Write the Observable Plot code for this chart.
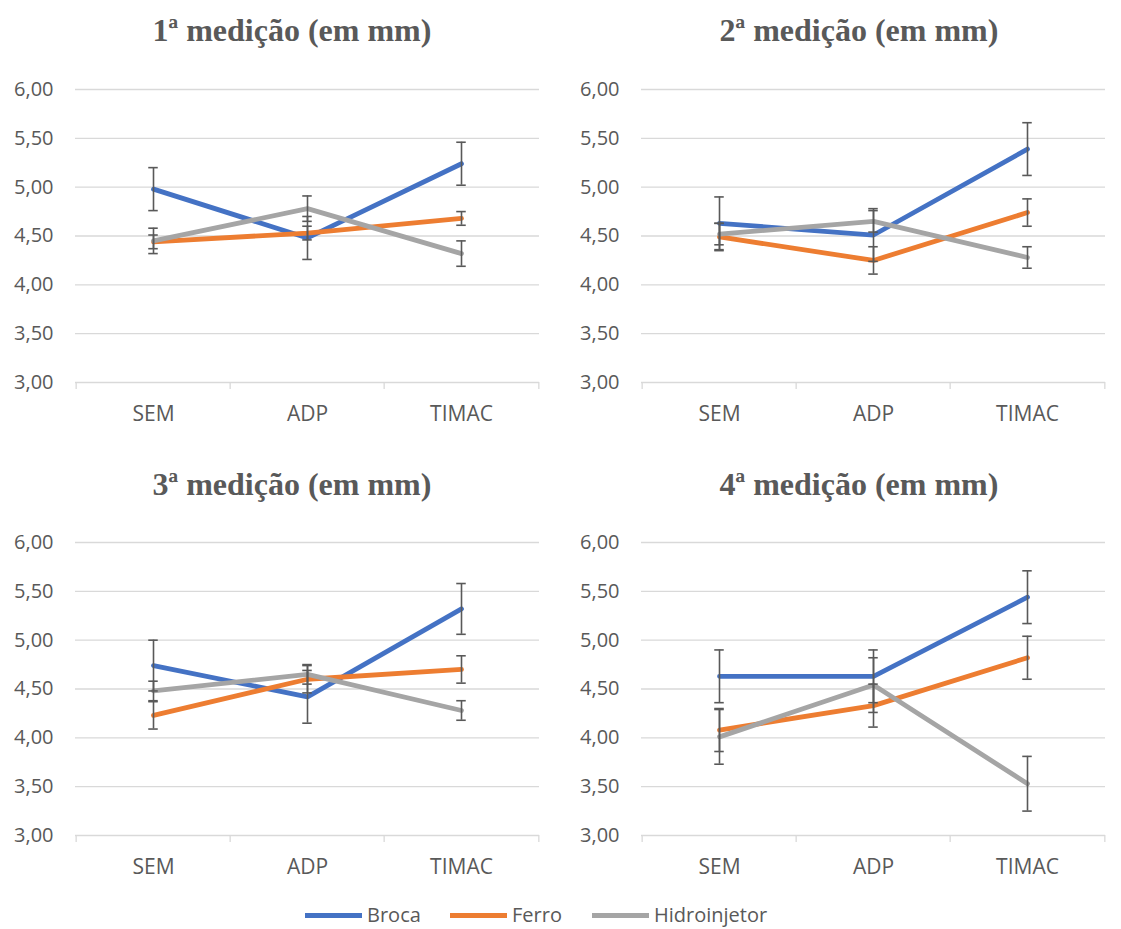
<!DOCTYPE html>
<html>
<head>
<meta charset="utf-8">
<script src="https://cdn.jsdelivr.net/npm/d3@7"></script>
<script src="https://cdn.jsdelivr.net/npm/@observablehq/plot@0.6"></script>
<style>
  body { margin: 0; background: #fff; }
  #root { position: relative; width: 1121px; height: 929px; overflow: hidden; background: #fff; }
  .panel { position: absolute; }
  .title { position: absolute; font-family: "Liberation Serif", "Times New Roman", serif; font-weight: bold;
           font-size: 32px; line-height: 32px; color: #595959; text-align: center; white-space: nowrap; }
  .lg { position: absolute; top: 901px; height: 28px; line-height: 28px; display: flex; align-items: center;
        font-family: "Open Sans", sans-serif; font-size: 20px; color: #595959; white-space: nowrap; }
  .sw { display: inline-block; width: 57px; height: 5px; margin-right: 5px; }
</style>
</head>
<body>
<div id="root"></div>
<script>
// ---- data ----
const categories = ["SEM", "ADP", "TIMAC"];
const titles = ["1ª medição (em mm)", "2ª medição (em mm)", "3ª medição (em mm)", "4ª medição (em mm)"];
const seriesNames = ["Broca", "Ferro", "Hidroinjetor"];
const seriesColors = ["#4472C4", "#ED7D31", "#A5A5A5"];
const yTicks = [3.0, 3.5, 4.0, 4.5, 5.0, 5.5, 6.0];

// values per measurement (panel) × category
const broca = [
  [4.98, 4.48, 5.24],
  [4.63, 4.51, 5.39],
  [4.74, 4.42, 5.32],
  [4.63, 4.63, 5.44]
];
const ferro = [
  [4.44, 4.53, 4.68],
  [4.49, 4.25, 4.74],
  [4.23, 4.60, 4.70],
  [4.08, 4.33, 4.82]
];
const hidroinjetor = [
  [4.45, 4.78, 4.32],
  [4.52, 4.65, 4.28],
  [4.48, 4.65, 4.28],
  [4.01, 4.54, 3.53]
];
// error bar half-lengths
const brocaErr = [
  [0.22, 0.22, 0.22],
  [0.27, 0.27, 0.27],
  [0.26, 0.27, 0.26],
  [0.27, 0.27, 0.27]
];
const ferroErr = [
  [0.07, 0.07, 0.07],
  [0.14, 0.14, 0.14],
  [0.14, 0.14, 0.14],
  [0.22, 0.22, 0.22]
];
const hidroinjetorErr = [
  [0.13, 0.13, 0.13],
  [0.11, 0.11, 0.11],
  [0.10, 0.10, 0.10],
  [0.28, 0.28, 0.28]
];

const allValues = [broca, ferro, hidroinjetor];
const allErrors = [brocaErr, ferroErr, hidroinjetorErr];

// ---- layout ----
const panels = [
  {left: 0,   top: 0,   w: 560, h: 454, ml: 75, mr: 21, mt: 89, mb: 72, titleLeft: 0,   titleW: 584, titleTop: 14},
  {left: 560, top: 0,   w: 561, h: 454, ml: 81, mr: 16, mt: 89, mb: 72, titleLeft: 560, titleW: 598, titleTop: 14},
  {left: 0,   top: 454, w: 560, h: 436, ml: 75, mr: 21, mt: 88, mb: 55, titleLeft: 0,   titleW: 584, titleTop: 468},
  {left: 560, top: 454, w: 561, h: 436, ml: 81, mr: 16, mt: 88, mb: 55, titleLeft: 560, titleW: 598, titleTop: 468}
];

const fmt = d => d3.format(".2f")(d).replace(".", ",");
const root = document.getElementById("root");

panels.forEach((p, i) => {
  const rows = [];
  seriesNames.forEach((s, si) => {
    categories.forEach((c, ci) => {
      rows.push({serie: s, cat: c, v: allValues[si][i][ci], e: allErrors[si][i][ci]});
    });
  });
  const step = (p.w - p.ml - p.mr) / categories.length;
  const chart = Plot.plot({
    width: p.w, height: p.h,
    marginLeft: p.ml, marginRight: p.mr, marginTop: p.mt, marginBottom: p.mb,
    style: {fontFamily: "'Open Sans', sans-serif", fontSize: "20px", color: "#595959", background: "transparent", overflow: "visible"},
    x: {type: "point", domain: categories, padding: 0.5, axis: null, label: null},
    y: {domain: [3, 6], axis: null, label: null},
    color: {domain: seriesNames, range: seriesColors},
    marks: [
      Plot.gridY(yTicks, {stroke: "#D9D9D9", strokeOpacity: 1, strokeWidth: 1.3}),
      Plot.axisY(yTicks, {tickSize: 0, tickPadding: 22, tickFormat: fmt, fill: "#595959", fontSize: 20, label: null}),
      Plot.axisX(categories, {tickSize: 0, tickPadding: 24, fill: "#595959", fontSize: 21, label: null}),
      Plot.axisX(categories, {tickSize: 7, tickFormat: () => "", label: null, dx: -step / 2, stroke: "#D9D9D9", strokeWidth: 1.3, strokeOpacity: 1}),
      Plot.axisX([categories[categories.length - 1]], {tickSize: 7, tickFormat: () => "", label: null, dx: step / 2, stroke: "#D9D9D9", strokeWidth: 1.3, strokeOpacity: 1}),
      Plot.line(rows, {x: "cat", y: "v", z: "serie", stroke: "serie", strokeWidth: 4.8, strokeLinecap: "round", strokeLinejoin: "round"}),
      Plot.ruleX(rows, {x: "cat", y1: d => d.v - d.e, y2: d => d.v + d.e, stroke: "#595959", strokeWidth: 1.6}),
      Plot.ruleY(rows, {y: d => d.v + d.e, x1: "cat", x2: "cat", insetLeft: -4.75, insetRight: -4.75, stroke: "#595959", strokeWidth: 1.6}),
      Plot.ruleY(rows, {y: d => d.v - d.e, x1: "cat", x2: "cat", insetLeft: -4.75, insetRight: -4.75, stroke: "#595959", strokeWidth: 1.6})
    ]
  });
  chart.classList.add("panel");
  chart.style.left = p.left + "px";
  chart.style.top = p.top + "px";
  root.appendChild(chart);

  const t = document.createElement("div");
  t.className = "title";
  t.textContent = titles[i];
  t.style.left = p.titleLeft + "px";
  t.style.width = p.titleW + "px";
  t.style.top = p.titleTop + "px";
  root.appendChild(t);
});

// legend
const legendLefts = [305, 450, 592];
seriesNames.forEach((s, si) => {
  const d = document.createElement("div");
  d.className = "lg";
  d.style.left = legendLefts[si] + "px";
  const sw = document.createElement("span");
  sw.className = "sw";
  sw.style.background = seriesColors[si];
  d.appendChild(sw);
  d.appendChild(document.createTextNode(s));
  root.appendChild(d);
});
</script>
</body>
</html>
